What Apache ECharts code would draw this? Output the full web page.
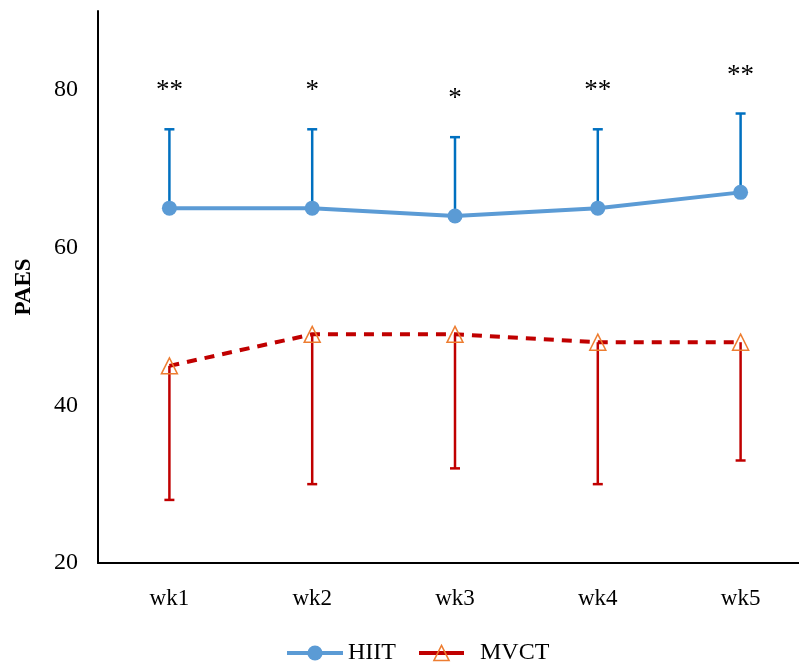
<!DOCTYPE html>
<html><head><meta charset="utf-8">
<script src="https://cdn.jsdelivr.net/npm/echarts@6/dist/echarts.min.js"></script>
<style>html,body{margin:0;padding:0;background:#fff}#c{width:799px;height:667px}</style>
</head><body><div id="c"></div>
<script>
var categories = ['wk1','wk2','wk3','wk4','wk5'];
var hiitMean = [65, 65, 64, 65, 67];
var hiitUpper = [75, 75, 74, 75, 77];
var mvctMean = [45, 49, 49, 48, 48];
var mvctLower = [28, 30, 32, 30, 33];
var stars = ['**','*','*','**','**'];
var yTicks = [20, 40, 60, 80];

var FONT = '"Liberation Serif", "Times New Roman", serif';

function errRender(color, withStars){
  return function(params, api){
    var i = api.value(0);
    var p1 = api.coord([i, api.value(1)]);
    var p2 = api.coord([i, api.value(2)]);
    var cap = 10;
    var children = [
      {type:'line', shape:{x1:p1[0], y1:p1[1], x2:p2[0], y2:p2[1]}, style:{stroke:color, lineWidth:2.5}},
      {type:'line', shape:{x1:p2[0]-cap/2, y1:p2[1], x2:p2[0]+cap/2, y2:p2[1]}, style:{stroke:color, lineWidth:2.5}}
    ];
    if (withStars) {
      children.push({type:'text', x:p2[0], y:p2[1]-38, style:{text:stars[params.dataIndex], font:'27px ' + FONT, fill:'#000', align:'center', verticalAlign:'middle'}});
    }
    return {type:'group', children:children};
  };
}

var legendBase = {
  bottom:-3, itemHeight:19, itemGap:0,
  textStyle:{fontFamily:FONT, fontSize:24, color:'#000'},
  lineStyle:{width:4}, itemStyle:{borderWidth:1.5}
};

var chart = echarts.init(document.getElementById('c'));
chart.setOption({
  animation:false,
  backgroundColor:'#fff',
  grid:{left:98, width:714, top:11, bottom:104, outerBoundsMode:'none'},
  legend:[
    Object.assign({}, legendBase, {data:['HIIT'], left:280, itemWidth:56}),
    Object.assign({}, legendBase, {data:['MVCT'], left:412, itemWidth:45,
      lineStyle:{width:4, type:'solid'},
      textStyle:{fontFamily:FONT, fontSize:24, color:'#000', padding:[0,0,0,11]}})
  ],
  xAxis:{
    type:'category', data:categories,
    axisLine:{lineStyle:{color:'#000', width:2}},
    axisTick:{show:false},
    axisLabel:{fontFamily:FONT, fontSize:23, color:'#000', margin:24},
    splitLine:{show:false}
  },
  yAxis:{
    type:'value', min:20, max:90, interval:20,
    name:'PAES', nameLocation:'middle', nameGap:62,
    nameTextStyle:{fontFamily:FONT, fontSize:23, fontWeight:'bold', color:'#000'},
    axisLine:{show:true, lineStyle:{color:'#000', width:2}},
    axisTick:{show:false},
    axisLabel:{fontFamily:FONT, fontSize:24, color:'#000', margin:20, showMaxLabel:false},
    splitLine:{show:false}
  },
  series:[
    {type:'custom', name:'HIITerr', z:1, renderItem:errRender('#0070C0', true),
     data:categories.map(function(c,i){return [i, hiitMean[i], hiitUpper[i]];})},
    {type:'custom', name:'MVCTerr', z:1, renderItem:errRender('#C00000', false),
     data:categories.map(function(c,i){return [i, mvctMean[i], mvctLower[i]];})},
    {type:'line', name:'HIIT', z:3, data:hiitMean, symbol:'circle', symbolSize:15,
     lineStyle:{color:'#5B9BD5', width:4}, itemStyle:{color:'#5B9BD5'}},
    {type:'line', name:'MVCT', z:3, data:mvctMean, symbol:'triangle', symbolSize:16,
     lineStyle:{color:'#C00000', width:4, type:[10,8]},
     itemStyle:{color:'rgba(255,255,255,0)', borderColor:'#ED7D31', borderWidth:1.5}}
  ]
});
</script>
</body></html>
